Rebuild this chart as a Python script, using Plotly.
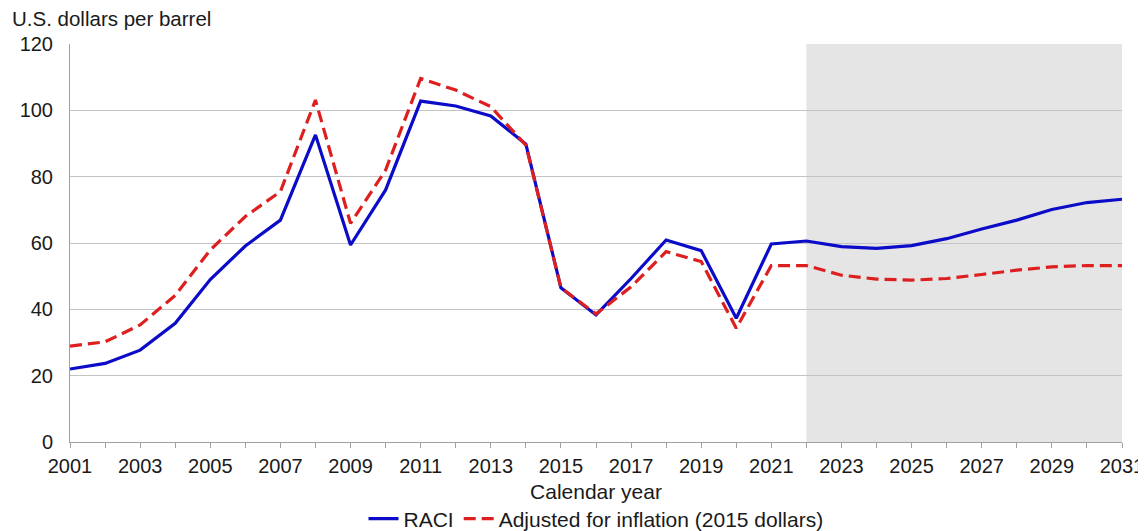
import plotly.graph_objects as go

years = list(range(2001, 2032))
raci = [22.0, 23.7, 27.7, 35.8, 49.0, 59.1, 66.9, 92.6, 59.4, 76.0,
        102.8, 101.3, 98.3, 89.8, 46.5, 38.3, 49.3, 60.9, 57.7, 37.3,
        59.7, 60.6, 58.9, 58.4, 59.2, 61.3, 64.2, 66.9, 70.1, 72.2, 73.2]
raci_real = [28.9, 30.2, 35.3, 44.2, 57.9, 68.0, 75.5, 103.1, 65.9, 82.0,
             109.6, 106.1, 101.1, 89.5, 46.5, 38.6, 46.8, 57.4, 54.4, 34.3,
             53.2, 53.2, 50.3, 49.1, 48.8, 49.3, 50.5, 51.8, 52.8, 53.2, 53.2]
forecast_start = 2022
forecast_end = 2031
series_names = ["RACI", "Adjusted for inflation (2015 dollars)"]
y_title = "U.S. dollars per barrel"
x_title = "Calendar year"

FONT = "Liberation Sans, Arial, sans-serif"
TXT = "#1a1a1a"
GRID = "#c4c4c4"

fig = go.Figure()
fig.add_trace(go.Scatter(x=years, y=raci, mode="lines", name=series_names[0],
                         line=dict(color="#0b0bc8", width=3.2)))
fig.add_trace(go.Scatter(x=years, y=raci_real, mode="lines", name=series_names[1],
                         line=dict(color="#dd1f1f", width=3.2, dash="12px,6px")))

fig.add_shape(type="rect", xref="x", yref="y", x0=forecast_start, x1=forecast_end,
              y0=0, y1=120, fillcolor="#e5e5e5", line=dict(width=0), layer="below")

fig.update_layout(
    width=1138, height=560,
    margin=dict(l=62, r=24, t=36, b=126),
    plot_bgcolor="white", paper_bgcolor="white",
    font=dict(family=FONT, size=18, color=TXT),
    showlegend=True,
    legend=dict(orientation="h", x=0.5, xanchor="center", y=-0.1935, yanchor="middle",
                font=dict(size=21, color=TXT), bgcolor="rgba(0,0,0,0)",
                borderwidth=0, tracegroupgap=0),
    annotations=[dict(text=y_title, xref="paper", yref="paper", x=-0.057, y=1.0653,
                      xanchor="left", yanchor="middle", showarrow=False,
                      font=dict(size=20.5, color=TXT))],
)
fig.update_xaxes(range=[2001, 2031], dtick=2, tick0=2001, ticks="outside", ticklen=5,
                 tickcolor="#a0a0a0", showline=True, linecolor="#a0a0a0", linewidth=1,
                 showgrid=False, zeroline=False, automargin=False,
                 tickfont=dict(size=20, color=TXT), ticklabelstandoff=1,
                 minor=dict(dtick=1, tick0=2001, ticks="outside", ticklen=5, tickcolor="#a0a0a0", showgrid=False),
                 title=dict(text=x_title, font=dict(size=21, color=TXT), standoff=8))
fig.update_yaxes(range=[0, 120], dtick=20, showgrid=True, gridcolor=GRID, gridwidth=1,
                 showline=True, linecolor="#a0a0a0", linewidth=1, zeroline=False,
                 automargin=False,
                 ticks="", tickfont=dict(size=20, color=TXT), ticklabelstandoff=12)

fig.write_html("out.html")
